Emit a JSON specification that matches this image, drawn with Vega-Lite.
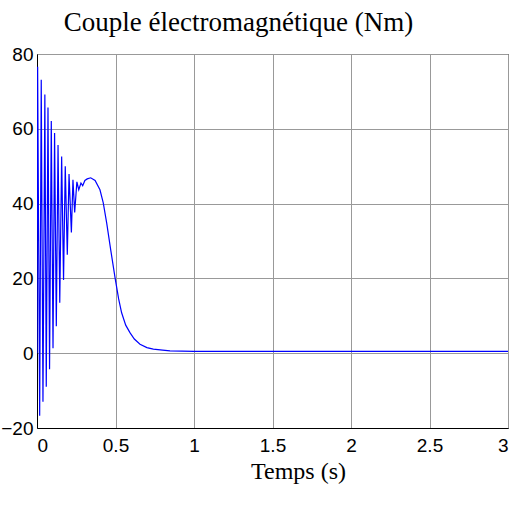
{
  "$schema": "https://vega.github.io/schema/vega-lite/v6.json",
  "autosize": {"type": "none"},
  "padding": {"left": 37, "top": 54, "right": 13, "bottom": 83},
  "width": 471,
  "height": 374,
  "background": "white",
  "title": {
    "text": "Couple électromagnétique (Nm)",
    "font": "Liberation Serif",
    "fontSize": 27,
    "fontWeight": "normal",
    "color": "black",
    "anchor": "middle",
    "baseline": "alphabetic",
    "offset": -13,
    "dx": -34
  },
  "config": {
    "view": {"stroke": "black", "strokeWidth": 1},
    "axis": {
      "labelFont": "Liberation Sans Narrow, Arial Narrow, Liberation Sans, sans-serif",
      "labelFontSize": 19,
      "labelColor": "black",
      "domainColor": "black",
      "gridColor": "#999999",
      "gridWidth": 1,
      "ticks": false,
      "tickSize": 0
    }
  },
  "data": {
    "values": [
      {"t": 0.0, "v": 0.0},
      {"t": 0.004, "v": 76.6},
      {"t": 0.017, "v": -16.7},
      {"t": 0.027, "v": 73.1},
      {"t": 0.038, "v": -13.0},
      {"t": 0.050, "v": 69.2},
      {"t": 0.059, "v": -9.0},
      {"t": 0.070, "v": 65.7},
      {"t": 0.080, "v": -4.3},
      {"t": 0.091, "v": 62.1},
      {"t": 0.102, "v": 1.3},
      {"t": 0.112, "v": 58.9},
      {"t": 0.123, "v": 7.2},
      {"t": 0.134, "v": 55.7},
      {"t": 0.145, "v": 13.5},
      {"t": 0.157, "v": 52.6},
      {"t": 0.169, "v": 19.6},
      {"t": 0.180, "v": 50.0},
      {"t": 0.193, "v": 26.3},
      {"t": 0.204, "v": 47.9},
      {"t": 0.219, "v": 32.3},
      {"t": 0.229, "v": 46.4},
      {"t": 0.240, "v": 37.6},
      {"t": 0.254, "v": 45.8},
      {"t": 0.266, "v": 43.7},
      {"t": 0.280, "v": 45.5},
      {"t": 0.291, "v": 44.8},
      {"t": 0.305, "v": 46.2},
      {"t": 0.320, "v": 46.6},
      {"t": 0.342, "v": 46.9},
      {"t": 0.370, "v": 46.2},
      {"t": 0.401, "v": 43.7},
      {"t": 0.422, "v": 40.2},
      {"t": 0.444, "v": 34.8},
      {"t": 0.470, "v": 27.5},
      {"t": 0.497, "v": 20.2},
      {"t": 0.520, "v": 14.5},
      {"t": 0.539, "v": 10.8},
      {"t": 0.565, "v": 7.5},
      {"t": 0.592, "v": 5.5},
      {"t": 0.620, "v": 3.8},
      {"t": 0.656, "v": 2.4},
      {"t": 0.700, "v": 1.5},
      {"t": 0.741, "v": 1.1},
      {"t": 0.800, "v": 0.8},
      {"t": 0.847, "v": 0.6},
      {"t": 1.0, "v": 0.5},
      {"t": 3.0, "v": 0.5}
    ]
  },
  "mark": {"type": "line", "color": "#0000ff", "strokeWidth": 1.2, "clip": true},
  "encoding": {
    "x": {
      "field": "t",
      "type": "quantitative",
      "scale": {"domain": [0, 3], "nice": false, "zero": false},
      "axis": {
        "values": [0, 0.5, 1, 1.5, 2, 2.5, 3],
        "format": "~g",
        "labelPadding": 8,
        "title": "Temps (s)",
        "titleFont": "Liberation Serif",
        "titleFontSize": 24,
        "titleFontWeight": "normal",
        "titleColor": "black",
        "titleBaseline": "alphabetic",
        "titleX": 261,
        "titleY": 50
      }
    },
    "y": {
      "field": "v",
      "type": "quantitative",
      "scale": {"domain": [-20, 80], "nice": false, "zero": false},
      "axis": {
        "values": [-20, 0, 20, 40, 60, 80],
        "labelPadding": 4,
        "title": null
      }
    }
  }
}
